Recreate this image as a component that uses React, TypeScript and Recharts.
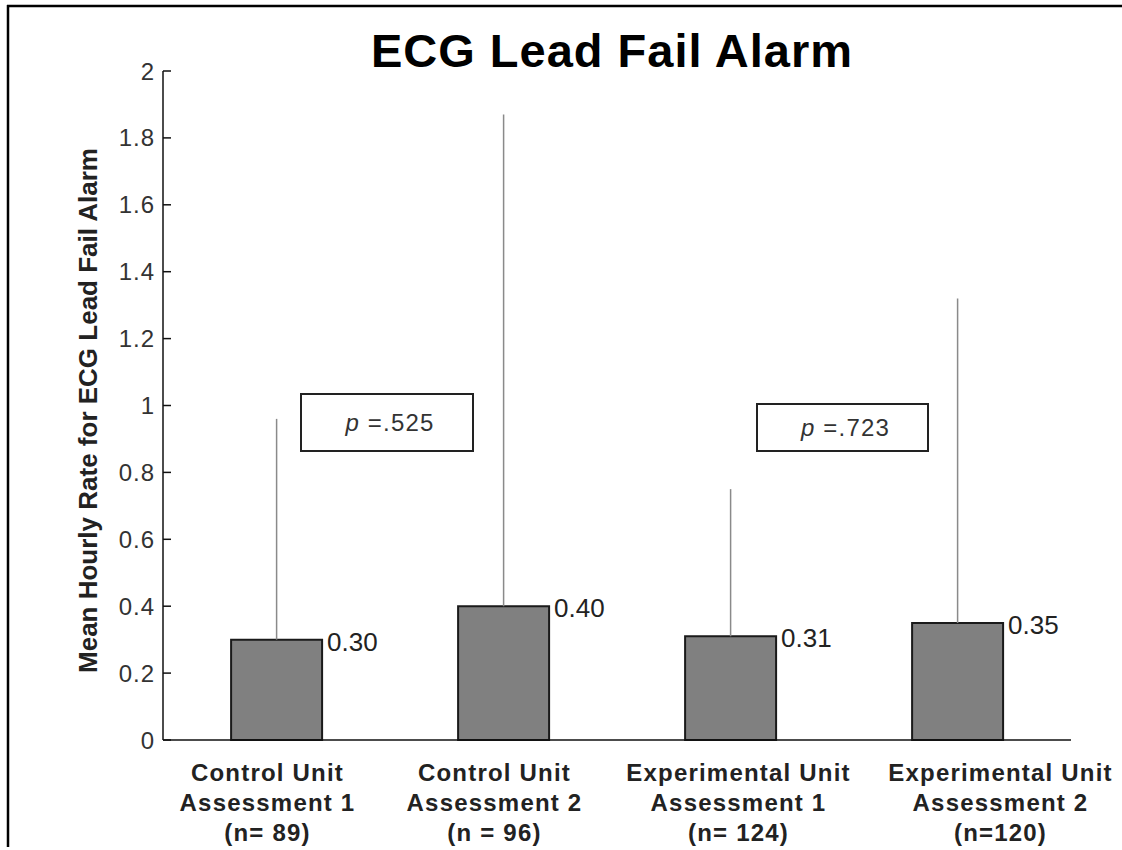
import { BarChart, Bar, XAxis, YAxis, ErrorBar, LabelList } from 'recharts'

// values
const CATEGORY_LINES = [
  ['Control Unit', 'Assessment 1', '(n= 89)'],
  ['Control Unit', 'Assessment 2', '(n = 96)'],
  ['Experimental Unit', 'Assessment 1', '(n= 124)'],
  ['Experimental Unit', 'Assessment 2', '(n=120)'],
]
const MEANS = [0.3, 0.4, 0.31, 0.35]
const UPPER_LIMITS = [0.96, 1.87, 0.75, 1.32]
const Y_TICKS = [0, 0.2, 0.4, 0.6, 0.8, 1, 1.2, 1.4, 1.6, 1.8, 2]
const P_VALUES = ['.525', '.723']

// label offsets as placed in the original figure
const LABEL_SHIFT = [-9, -9, 8, 43]

const FONT = '"Liberation Sans", Arial, sans-serif'

const chartData = MEANS.map((mean, i) => ({
  name: String(i),
  mean,
  err: [0, +(UPPER_LIMITS[i] - mean).toFixed(2)],
}))

function YTick({ x, y, payload }: any) {
  const v = payload.value
  return (
    <g>
      <line x1={x} x2={x + 8} y1={y} y2={y} stroke="#111" strokeWidth={1.5} />
      <text
        x={x - 8}
        y={y}
        textAnchor="end"
        dominantBaseline="central"
        fontFamily={FONT}
        fontSize={24}
        letterSpacing={1}
        fill="#333"
      >
        {String(Number(v.toFixed(1)))}
      </text>
    </g>
  )
}

function XTick({ x, y, payload, index }: any) {
  const lines = CATEGORY_LINES[Number(payload.value)]
  const cx = x + LABEL_SHIFT[index ?? Number(payload.value)]
  return (
    <g>
      {lines.map((line, i) => (
        <text
          key={i}
          x={cx}
          y={y + 41 + i * 30}
          textAnchor="middle"
          fontFamily={FONT}
          fontWeight="bold"
          fontSize={24}
          letterSpacing={1.2}
          fill="#222"
        >
          {line}
        </text>
      ))}
    </g>
  )
}

function ValueLabel({ x, y, width, value }: any) {
  return (
    <text
      x={x + width + 5}
      y={y + 2}
      dominantBaseline="central"
      fontFamily={FONT}
      fontSize={26}
      fill="#222"
    >
      {Number(value).toFixed(2)}
    </text>
  )
}

function YLabel({ viewBox }: any) {
  const cx = viewBox.x - 5
  const cy = viewBox.y + viewBox.height / 2 + 5
  return (
    <text
      x={cx}
      y={cy}
      transform={`rotate(-90 ${cx} ${cy})`}
      textAnchor="middle"
      dominantBaseline="central"
      fontFamily={FONT}
      fontWeight="bold"
      fontSize={26}
      fill="#222"
    >
      Mean Hourly Rate for ECG Lead Fail Alarm
    </text>
  )
}

function PBox({ x, y, w, h, value }: any) {
  return (
    <g>
      <rect x={x} y={y} width={w} height={h} fill="#fff" stroke="#222" strokeWidth={2} />
      <text
        x={x + w / 2 + 3}
        y={y + h / 2 + 8}
        textAnchor="middle"
        fontFamily={FONT}
        fontSize={24}
        letterSpacing={1.2}
        fill="#333"
      >
        <tspan fontStyle="italic">p</tspan> =
        {value}
      </text>
    </g>
  )
}

export default function App() {
  return (
    <div style={{ position: 'absolute', left: 0, top: 0, background: '#fff' }}>
      <BarChart
        width={1122}
        height={850}
        data={chartData}
        margin={{ top: 71, right: 51, bottom: 10, left: 93 }}
        barCategoryGap="30%"
      >
        {/* figure frame */}
        <line x1={7} x2={1122} y1={6} y2={6} stroke="#000" strokeWidth={2.5} />
        <line x1={8} x2={8} y1={5} y2={847} stroke="#000" strokeWidth={2.5} />

        <text
          x={612}
          y={67}
          textAnchor="middle"
          fontFamily={FONT}
          fontWeight="bold"
          fontSize={47}
          letterSpacing={1}
          fill="#000"
        >
          ECG Lead Fail Alarm
        </text>

        <XAxis
          dataKey="name"
          interval={0}
          height={100}
          tickLine={false}
          tickSize={0}
          tickMargin={0}
          axisLine={{ stroke: '#111', strokeWidth: 1.5 }}
          tick={<XTick />}
        />
        <YAxis
          width={70}
          domain={[0, 2]}
          ticks={Y_TICKS}
          tickLine={false}
          tickSize={0}
          tickMargin={0}
          axisLine={{ stroke: '#111', strokeWidth: 1.5 }}
          tick={<YTick />}
          label={<YLabel />}
        />
        <Bar dataKey="mean" fill="#808080" stroke="#1a1a1a" strokeWidth={2} isAnimationActive={false}>
          <ErrorBar dataKey="err" direction="y" width={0} stroke="#8a8a8a" strokeWidth={1.5} />
          <LabelList dataKey="mean" content={<ValueLabel />} />
        </Bar>

        <PBox x={301} y={394} w={172} h={57} value={P_VALUES[0]} />
        <PBox x={757} y={404} w={171} h={47} value={P_VALUES[1]} />
      </BarChart>
    </div>
  )
}
